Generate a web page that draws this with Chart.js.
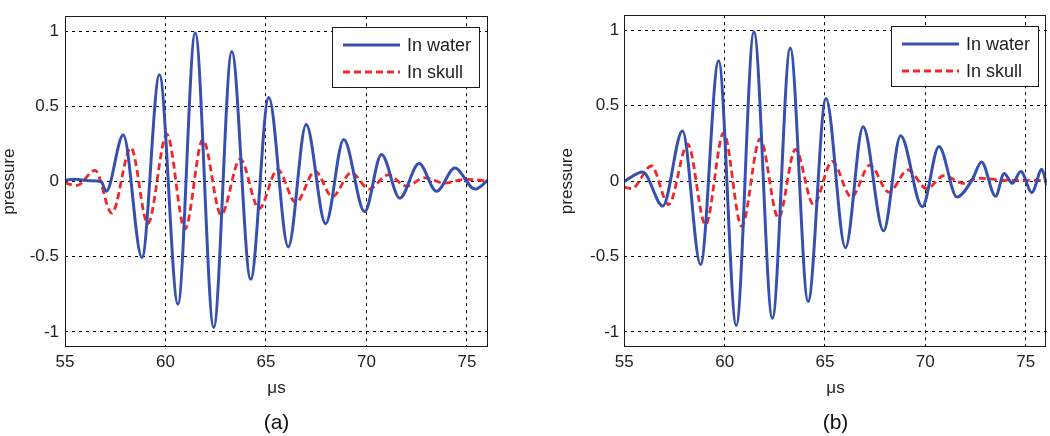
<!DOCTYPE html>
<html><head><meta charset="utf-8">
<script src="https://cdn.jsdelivr.net/npm/chart.js@4.4.0/dist/chart.umd.min.js"></script>
<style>
html,body{margin:0;padding:0;background:#fff;}
#wrap{position:relative;width:1050px;height:436px;overflow:hidden;}
.panel{position:absolute;top:0;width:525px;height:436px;}
</style></head><body>
<div id="wrap">
<div class="panel" style="left:0"><canvas id="ca" width="525" height="436"></canvas></div>
<div class="panel" style="left:525px"><canvas id="cb" width="525" height="436"></canvas></div>
</div>
<script>
// ---- data ----
const xTicks = [55, 60, 65, 70, 75];
const yTicks = [-1, -0.5, 0, 0.5, 1];
const seriesNames = ['In water', 'In skull'];
const panelTitles = ['(a)', '(b)'];

// panel (a)
const waterTimeA = [55, 55.5, 56.2, 56.8, 57.05, 57.9, 58.83, 59.7, 60.62, 61.48, 62.4, 63.3, 64.24, 65.14, 66.11, 67.0, 67.97, 68.87, 69.91, 70.75, 71.66, 72.62, 73.49, 74.4, 75.4, 76.05];
const waterA     = [0.01, 0.015, 0.005, 0.0, -0.065, 0.31, -0.505, 0.71, -0.815, 0.99, -0.97, 0.865, -0.65, 0.56, -0.435, 0.38, -0.28, 0.28, -0.2, 0.18, -0.11, 0.12, -0.065, 0.09, -0.05, 0.01];
const skullTimeA = [55, 55.6, 56.5, 57.33, 58.28, 59.12, 60.07, 60.97, 61.86, 62.77, 63.72, 64.66, 65.58, 66.49, 67.45, 68.3, 69.25, 70.13, 71.08, 71.99, 72.9, 73.9, 74.9, 76.05];
const skullA     = [-0.01, -0.025, 0.075, -0.21, 0.225, -0.28, 0.315, -0.315, 0.28, -0.22, 0.15, -0.18, 0.08, -0.14, 0.07, -0.1, 0.06, -0.05, 0.045, -0.03, 0.025, -0.01, 0.015, 0.005];

// panel (b)
const waterTimeB = [55, 55.92, 56.92, 57.9, 58.8, 59.7, 60.58, 61.46, 62.38, 63.27, 64.16, 65.05, 66.02, 66.9, 67.92, 68.77, 69.85, 70.68, 71.58, 72.34, 72.8, 73.5, 73.93, 74.34, 74.76, 75.31, 75.81, 76.05];
const waterB     = [0.0, 0.06, -0.165, 0.333, -0.553, 0.798, -0.958, 0.99, -0.91, 0.883, -0.798, 0.548, -0.442, 0.36, -0.33, 0.30, -0.17, 0.23, -0.106, 0.01, 0.127, -0.1, 0.05, -0.015, 0.064, -0.075, 0.078, -0.03];
const skullTimeB = [55, 55.37, 56.35, 57.21, 58.16, 59.05, 59.95, 60.85, 61.77, 62.68, 63.53, 64.43, 65.36, 66.32, 67.24, 68.19, 69.13, 70.08, 70.92, 71.92, 72.6, 74.0, 76.05];
const skullB     = [-0.04, -0.05, 0.10, -0.155, 0.245, -0.29, 0.32, -0.30, 0.28, -0.245, 0.21, -0.155, 0.13, -0.106, 0.106, -0.074, 0.074, -0.05, 0.036, -0.015, 0.02, 0.005, 0.005];

// ---- styling / building ----
const FAMILY = '"Liberation Sans", Arial, sans-serif';
const BLUE = '#3850ad';
const RED = '#f0282a';
const TEXT = '#222222';
Chart.defaults.font.family = FAMILY;

function zip(xs, ys) { return xs.map((x, i) => ({ x: x, y: ys[i] })); }

const frameLegend = {
  id: 'frameLegend',
  afterDatasetsDraw(chart) {
    const ctx = chart.ctx, a = chart.chartArea;
    ctx.save();
    ctx.setLineDash([]);
    ctx.strokeStyle = '#1a1a1a';
    ctx.lineWidth = 1;
    ctx.strokeRect(Math.round(a.left) + 0.5, Math.round(a.top) + 0.5,
                   Math.round(a.right - a.left) - 1, Math.round(a.bottom - a.top) - 1);
    const bw = 147, bh = 60;
    const bx = Math.round(a.right) - 9 - bw, by = Math.round(a.top) + 11;
    ctx.fillStyle = '#ffffff';
    ctx.fillRect(bx, by, bw, bh);
    ctx.strokeRect(bx + 0.5, by + 0.5, bw, bh);
    ctx.font = '18px ' + FAMILY;
    ctx.textBaseline = 'middle';
    ctx.textAlign = 'left';
    chart.data.datasets.forEach((ds, i) => {
      const yy = by + 18 + i * 27;
      ctx.strokeStyle = ds.borderColor;
      ctx.lineWidth = ds.borderWidth;
      ctx.setLineDash(ds.borderDash || []);
      ctx.beginPath(); ctx.moveTo(bx + 11, yy); ctx.lineTo(bx + 68, yy); ctx.stroke();
      ctx.setLineDash([]);
      ctx.fillStyle = TEXT;
      ctx.fillText(ds.label, bx + 75, yy + 1);
    });
    ctx.restore();
  }
};

function makeChart(id, cfg) {
  return new Chart(document.getElementById(id), {
    type: 'line',
    data: {
      datasets: [
        { label: seriesNames[0], data: zip(cfg.wt, cfg.wv), borderColor: BLUE, borderWidth: 3,
          pointRadius: 0, cubicInterpolationMode: 'monotone', fill: false },
        { label: seriesNames[1], data: zip(cfg.st, cfg.sv), borderColor: RED, borderWidth: 2.8,
          borderDash: [7, 4], pointRadius: 0, cubicInterpolationMode: 'monotone', fill: false }
      ]
    },
    options: {
      responsive: false, animation: false, devicePixelRatio: 1,
      layout: { padding: { left: cfg.padLeft, right: cfg.padRight, top: 2, bottom: 0 } },
      plugins: {
        legend: { display: false },
        tooltip: { enabled: false },
        title: { display: true, position: 'bottom', fullSize: false, text: cfg.title, color: '#111',
                 font: { size: 21, family: FAMILY, weight: 'normal', lineHeight: 1.2 },
                 padding: { top: 4, bottom: 0 } }
      },
      scales: {
        x: {
          type: 'linear', min: 55, max: 76.05,
          afterBuildTicks: s => { s.ticks = xTicks.map(v => ({ value: v })); },
          afterFit: s => { s.height = 59.8; },
          grid: { color: '#000', lineWidth: 1, drawTicks: false },
          border: { display: false, dash: [3, 4] },
          ticks: { color: TEXT, font: { size: 17 }, padding: 5, maxRotation: 0,
                   callback: v => String(v) },
          title: { display: true, text: 'μs', color: TEXT, font: { size: 17, lineHeight: 1.2 },
                   padding: { top: 0, bottom: 8.6 } }
        },
        y: {
          type: 'linear', min: -1.1, max: 1.1,
          afterBuildTicks: s => { s.ticks = yTicks.map(v => ({ value: v })); },
          afterFit: s => { s.width = cfg.yWidth; },
          grid: { color: '#000', lineWidth: 1, drawTicks: false },
          border: { display: false, dash: [3, 4] },
          ticks: { color: TEXT, font: { size: 17 }, padding: cfg.yPad, callback: v => String(v) },
          title: { display: true, text: 'pressure', color: TEXT, font: { size: 17, lineHeight: 1 },
                   padding: { top: 0.5, bottom: 0 } }
        }
      }
    },
    plugins: [frameLegend]
  });
}

makeChart('ca', { wt: waterTimeA, wv: waterA, st: skullTimeA, sv: skullA, title: panelTitles[0],
                  padLeft: 0, padRight: 37, yWidth: 65, yPad: 6 });
makeChart('cb', { wt: waterTimeB, wv: waterB, st: skullTimeB, sv: skullB, title: panelTitles[1],
                  padLeft: 33, padRight: 3.3, yWidth: 66.3, yPad: 5 });
</script>
</body></html>
